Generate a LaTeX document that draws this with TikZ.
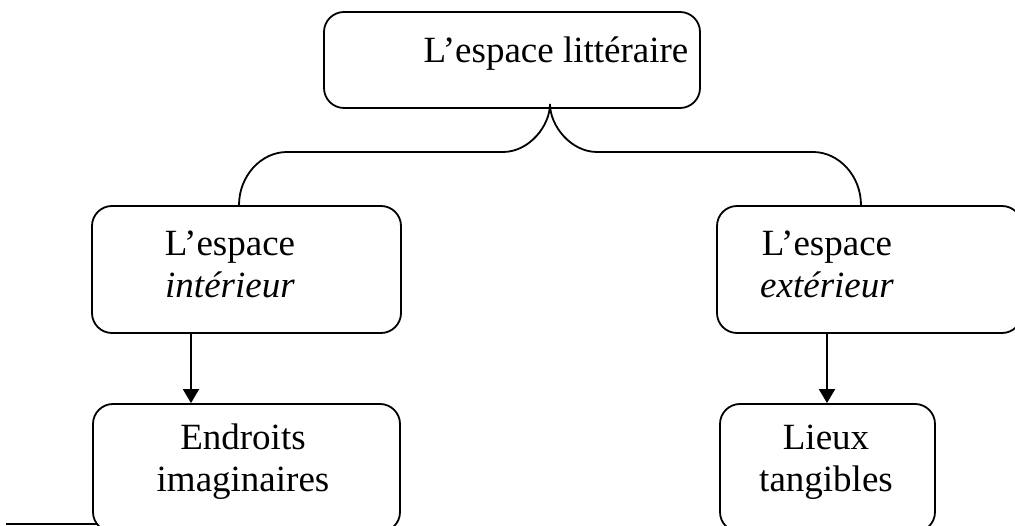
\documentclass[tikz,border=0pt]{standalone}
\usepackage{fontspec}
\setmainfont{Liberation Serif}
\usetikzlibrary{arrows.meta}
\begin{document}
\begin{tikzpicture}[x=1pt,y=-1pt,
  boxstyle/.style={draw=black,line width=1.8pt,rounded corners=20pt,inner sep=0pt},
  lbl/.style={font=\fontsize{37}{42}\selectfont,align=center,inner sep=0pt},
  link/.style={line width=1.8pt},
  arr/.style={line width=1.8pt,-{Triangle[length=14pt,width=16pt]}}]
\useasboundingbox (0,0) rectangle (1015,526);
\clip (0,0) rectangle (1015,526);
% boxes
\node[boxstyle,minimum width=376pt,minimum height=96pt] (top) at (512,60) {};
\node[boxstyle,minimum width=309pt,minimum height=127pt] (lm) at (246.5,269.5) {};
\node[boxstyle,minimum width=305pt,minimum height=127pt] (rm) at (869.5,269.5) {};
\node[boxstyle,minimum width=307pt,minimum height=128pt] (lb) at (246.5,468) {};
\node[boxstyle,minimum width=215pt,minimum height=128pt] (rb) at (827.5,468) {};
% texts
\node[lbl] (toptxt) at (556,54) {L’espace littéraire};
\node[lbl] (lmtxt) at (230,264) {L’espace\\\textit{intérieur}};
\node[lbl] (rmtxt) at (827,264) {L’espace\\\textit{extérieur}};
\node[lbl] (lbtxt) at (243,462) {Endroits\\imaginaires};
\node[lbl] (rbtxt) at (826,462) {Lieux\\tangibles};
% brace
\coordinate (bx) at (239,0);
\coordinate (tx) at (550,104);
\coordinate (rx) at (861,0);
\draw[link] (lm.north -| bx) .. controls (239,176) and (261,152) .. (287,152)
  -- (503,152) .. controls (529,152) and (550,126) .. (tx)
  .. controls (550,126) and (571,152) .. (597,152)
  -- (813,152) .. controls (839,152) and (861,176) .. (rm.north -| rx);
% arrows
\coordinate (ax) at (191,0);
\coordinate (cx) at (827,0);
\draw[arr] (lm.south -| ax) -- (lb.north -| ax);
\draw[arr] (rm.south -| cx) -- (rb.north -| cx);
% stray rule at bottom left
\coordinate (r1) at (6,524);
\coordinate (r2) at (98,524);
\draw[line width=1.5pt] (r1) -- (r2);
\end{tikzpicture}
\end{document}
